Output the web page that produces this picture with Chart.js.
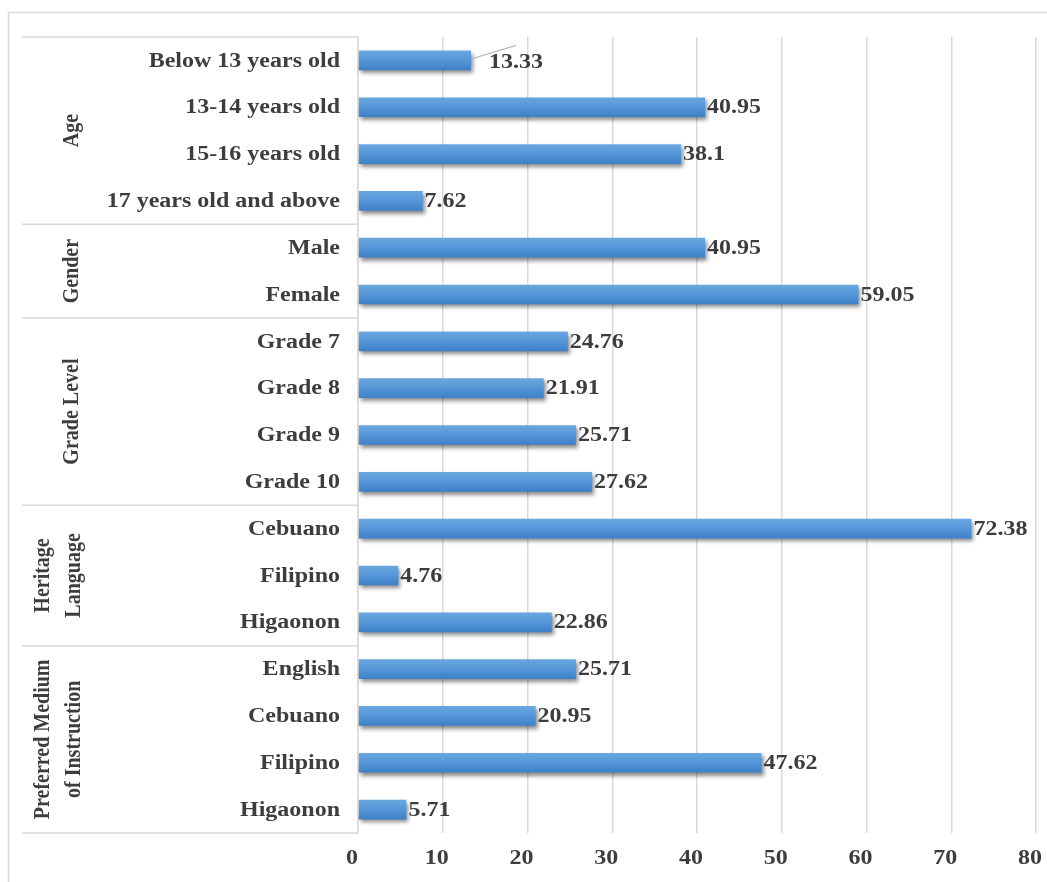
<!DOCTYPE html>
<html>
<head>
<meta charset="utf-8">
<script src="https://cdn.jsdelivr.net/npm/chart.js@4"></script>
<style>
  body { margin: 0; background: #fff; }
  #wrap { width: 1047px; height: 882px; position: relative; }
</style>
</head>
<body>
<div id="wrap"><canvas id="chart1"></canvas></div>
<script>
// categories, top to bottom
var categories = ['Below 13 years old', '13-14 years old', '15-16 years old', '17 years old and above',
  'Male', 'Female',
  'Grade 7', 'Grade 8', 'Grade 9', 'Grade 10',
  'Cebuano', 'Filipino', 'Higaonon',
  'English', 'Cebuano', 'Filipino', 'Higaonon'];
var percents = [13.33, 40.95, 38.1, 7.62, 40.95, 59.05, 24.76, 21.91, 25.71, 27.62,
  72.38, 4.76, 22.86, 25.71, 20.95, 47.62, 5.71];
var groupNames = [['Age'], ['Gender'], ['Grade Level'], ['Heritage', 'Language'], ['Preferred Medium', 'of Instruction']];
var groupSizes = [4, 2, 4, 3, 4];
var xTicks = [0, 10, 20, 30, 40, 50, 60, 70, 80];

var FONT = 'bold 20px "Liberation Serif", "DejaVu Serif", serif';
var STRETCH = 1.2; // the original text is a wide-set serif
var TEXT = '#3d3d3d';
var LINE = '#d9d9d9';

function wideText(ctx, t, x, y, align) {
  ctx.save();
  ctx.translate(x, y);
  ctx.scale(STRETCH, 1);
  ctx.textAlign = align;
  ctx.fillText(t, 0, 0);
  ctx.restore();
}

function groupBounds(chart) {
  var y = chart.scales.y, area = chart.chartArea;
  var out = [], start = 0;
  groupSizes.forEach(function (n) {
    var end = start + n - 1;
    var top = start === 0 ? area.top : (y.getPixelForValue(start - 1) + y.getPixelForValue(start)) / 2;
    var bottom = end === categories.length - 1 ? area.bottom :
      (y.getPixelForValue(end) + y.getPixelForValue(end + 1)) / 2;
    out.push([top, bottom]);
    start += n;
  });
  return out;
}

// frame, group column, separators, axis text
var framePlugin = {
  id: 'frame',
  beforeDraw: function (chart) {
    var ctx = chart.ctx, area = chart.chartArea;
    ctx.save();
    ctx.strokeStyle = LINE;
    ctx.lineWidth = 1.5;
    ctx.strokeRect(8.5, 12.5, 1100, 1000);
    var b = groupBounds(chart);
    var lines = [area.top].concat(b.map(function (g) { return g[1]; }));
    lines.forEach(function (ly) {
      ctx.beginPath();
      ctx.moveTo(22, ly);
      ctx.lineTo(area.left, ly);
      ctx.stroke();
    });
    ctx.restore();
  },
  afterDraw: function (chart) {
    var ctx = chart.ctx, area = chart.chartArea;
    var xs = chart.scales.x, ys = chart.scales.y;
    ctx.save();
    ctx.font = FONT;
    ctx.fillStyle = TEXT;
    ctx.textBaseline = 'middle';

    // category labels
    categories.forEach(function (c, i) {
      wideText(ctx, c, area.left - 18, ys.getPixelForValue(i) + 1, 'right');
    });
    // x tick labels (sit a little left of their gridlines in the original)
    xTicks.forEach(function (v) {
      wideText(ctx, String(v), xs.getPixelForValue(v) - 6, area.bottom + 26, 'center');
    });
    // group labels, rotated
    groupBounds(chart).forEach(function (g, gi) {
      var mid = (g[0] + g[1]) / 2;
      var names = groupNames[gi];
      var cx = names.length === 1 ? [72] : [43, 74];
      names.forEach(function (t, k) {
        ctx.save();
        ctx.translate(cx[k], mid);
        ctx.rotate(-Math.PI / 2);
        ctx.scale(1, STRETCH);
        ctx.textAlign = 'center';
        ctx.fillText(t, 0, 0);
        ctx.restore();
      });
    });
    ctx.restore();
  }
};

// gradient fill + shadow on bars
var barStylePlugin = {
  id: 'barStyle',
  beforeDatasetsDraw: function (chart) {
    var ctx = chart.ctx;
    chart.getDatasetMeta(0).data.forEach(function (bar) {
      var g = ctx.createLinearGradient(0, bar.y - bar.height / 2, 0, bar.y + bar.height / 2);
      g.addColorStop(0, '#6aa7df');
      g.addColorStop(0.5, '#5496d8');
      g.addColorStop(1, '#3e80c7');
      bar.options.backgroundColor = g;
    });
    ctx.save();
    ctx.shadowColor = 'rgba(0,0,0,0.45)';
    ctx.shadowBlur = 4;
    ctx.shadowOffsetX = 2;
    ctx.shadowOffsetY = 3;
  },
  afterDatasetsDraw: function (chart) {
    chart.ctx.restore();
  }
};

// value labels at bar ends
var valueLabels = {
  id: 'valueLabels',
  afterDatasetsDraw: function (chart) {
    var ctx = chart.ctx;
    ctx.save();
    ctx.font = FONT;
    ctx.fillStyle = TEXT;
    ctx.textBaseline = 'middle';
    chart.getDatasetMeta(0).data.forEach(function (bar, i) {
      var tx = bar.x + 2;
      var ty = bar.y + 1;
      if (i === 0) {
        // label pulled out with a leader line
        tx = bar.x + 18;
        ty = bar.y + 2;
        ctx.save();
        ctx.strokeStyle = '#a6a6a6';
        ctx.lineWidth = 1;
        ctx.beginPath();
        ctx.moveTo(bar.x + 2, bar.y - 2);
        ctx.lineTo(bar.x + 45, bar.y - 15);
        ctx.stroke();
        ctx.restore();
      }
      wideText(ctx, String(percents[i]), tx, ty, 'left');
    });
    ctx.restore();
  }
};

var ctx = document.getElementById('chart1').getContext('2d');
var chart = new Chart(ctx, {
  type: 'bar',
  data: {
    labels: categories,
    datasets: [{
      data: percents,
      backgroundColor: function () { return '#5496d8'; },
      borderWidth: 0,
      barPercentage: 0.42,
      categoryPercentage: 1
    }]
  },
  options: {
    indexAxis: 'y',
    responsive: true,
    maintainAspectRatio: false,
    animation: false,
    layout: { padding: { top: 37, right: 11, bottom: 8, left: 0 } },
    plugins: { legend: { display: false }, tooltip: { enabled: false } },
    scales: {
      x: {
        min: 0, max: 80,
        afterBuildTicks: function (axis) {
          axis.ticks = xTicks.map(function (v) { return { value: v }; });
        },
        afterFit: function (axis) { axis.height = 41; axis.paddingLeft = 0; axis.paddingRight = 0; },
        grid: { color: LINE, lineWidth: 1.5, drawTicks: false },
        border: { display: false },
        ticks: { display: false }
      },
      y: {
        afterFit: function (axis) { axis.width = 358; },
        grid: { display: false, drawTicks: false },
        border: { display: true, color: LINE, width: 1.5 },
        ticks: { display: false, autoSkip: false }
      }
    }
  },
  plugins: [framePlugin, barStylePlugin, valueLabels]
});
</script>
</body>
</html>
